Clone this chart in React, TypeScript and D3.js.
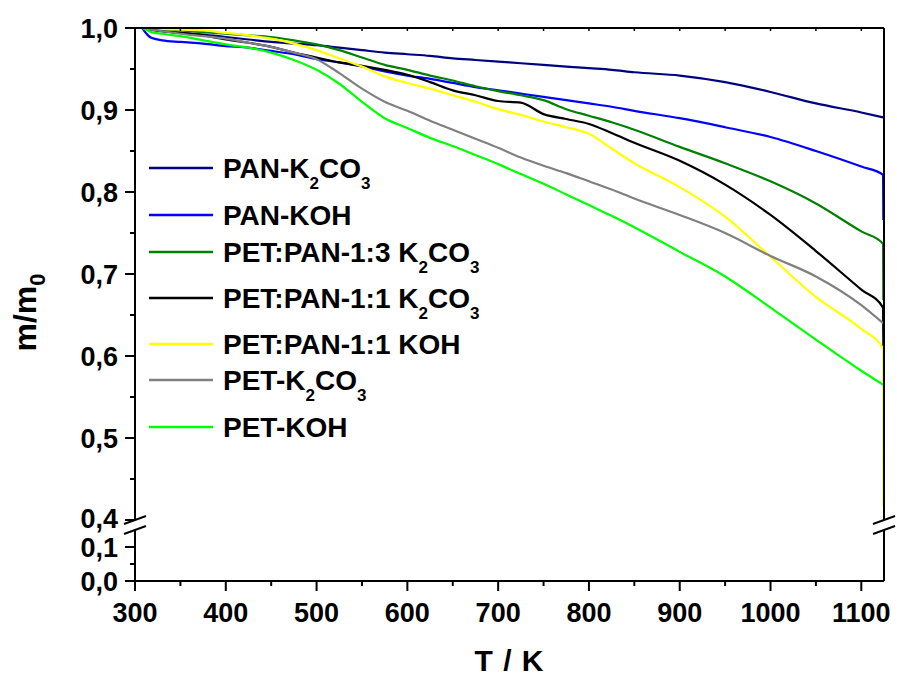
import React from "react";
import * as d3 from "d3";

const temps = [308, 312, 318, 330, 350, 375, 400, 425, 450, 475, 500, 525, 550, 575, 600, 625, 650, 675, 700, 725, 750, 775, 800, 825, 850, 900, 950, 1000, 1050, 1100, 1124];

const panK2CO3 = [1.0, 0.999, 0.998, 0.996, 0.994, 0.992, 0.989, 0.986, 0.983, 0.981, 0.979, 0.976, 0.973, 0.97, 0.968, 0.966, 0.963, 0.961, 0.959, 0.957, 0.955, 0.953, 0.951, 0.949, 0.946, 0.942, 0.934, 0.922, 0.908, 0.897, 0.891];
const panKOH = [1.0, 0.994, 0.988, 0.985, 0.983, 0.981, 0.978, 0.976, 0.972, 0.968, 0.962, 0.958, 0.953, 0.947, 0.942, 0.938, 0.933, 0.928, 0.924, 0.92, 0.916, 0.912, 0.908, 0.904, 0.899, 0.89, 0.879, 0.867, 0.85, 0.831, 0.821];
const petPan13K2CO3 = [1.0, 1.0, 0.999, 0.998, 0.997, 0.995, 0.993, 0.991, 0.989, 0.985, 0.98, 0.973, 0.964, 0.955, 0.949, 0.942, 0.936, 0.929, 0.923, 0.918, 0.912, 0.901, 0.893, 0.885, 0.876, 0.855, 0.835, 0.813, 0.786, 0.752, 0.737];
const petPan11K2CO3 = [1.0, 0.999, 0.998, 0.996, 0.994, 0.991, 0.986, 0.982, 0.977, 0.97, 0.964, 0.958, 0.954, 0.949, 0.943, 0.934, 0.924, 0.918, 0.911, 0.909, 0.895, 0.889, 0.883, 0.872, 0.86, 0.838, 0.809, 0.772, 0.728, 0.681, 0.659];
const petPan11KOH = [1.0, 1.0, 1.0, 0.999, 0.998, 0.997, 0.994, 0.991, 0.987, 0.981, 0.973, 0.963, 0.953, 0.941, 0.933, 0.926, 0.918, 0.91, 0.901, 0.894, 0.886, 0.879, 0.871, 0.853, 0.835, 0.806, 0.77, 0.721, 0.672, 0.633, 0.609];
const petK2CO3 = [1.0, 0.999, 0.998, 0.996, 0.993, 0.99, 0.987, 0.982, 0.977, 0.97, 0.962, 0.945, 0.926, 0.91, 0.899, 0.887, 0.876, 0.865, 0.854, 0.842, 0.832, 0.823, 0.813, 0.803, 0.792, 0.772, 0.75, 0.722, 0.697, 0.662, 0.64];
const petKOH = [1.0, 0.998, 0.995, 0.993, 0.99, 0.985, 0.98, 0.976, 0.97, 0.961, 0.949, 0.932, 0.91, 0.89, 0.878, 0.866, 0.856, 0.845, 0.834, 0.822, 0.81, 0.797, 0.784, 0.771, 0.757, 0.727, 0.697, 0.659, 0.62, 0.582, 0.565];

// final vertical drop at the end of the run (null = none)
const endDrops = [null, 0.766, 0.668, 0.612, 0.418, null, null];

const seriesNames = ["PAN-K2CO3", "PAN-KOH", "PET:PAN-1:3 K2CO3", "PET:PAN-1:1 K2CO3", "PET:PAN-1:1 KOH", "PET-K2CO3", "PET-KOH"];
const seriesColors = ["#000080", "#0000ff", "#008000", "#000000", "#ffff00", "#808080", "#00ff00"];
const seriesValues = [panK2CO3, panKOH, petPan13K2CO3, petPan11K2CO3, petPan11KOH, petK2CO3, petKOH];

const xTicks = [300, 400, 500, 600, 700, 800, 900, 1000, 1100];
const xMinor = [350, 450, 550, 650, 750, 850, 950, 1050];
const yUpperTicks = [0.4, 0.5, 0.6, 0.7, 0.8, 0.9, 1.0];
const yUpperMinor = [0.45, 0.55, 0.65, 0.75, 0.85, 0.95];
const yLowerTicks = [0.0, 0.1];
const yLowerMinor = [0.05];

const FONT = "'Liberation Sans', Arial, sans-serif";

function fmt(v: number) {
  return v.toFixed(1).replace(".", ",");
}

function Label({ name, x, y }: { name: string; x: number; y: number }) {
  const parts: { t: string; sub: boolean }[] = [];
  const m = name.match(/^(.*K)2CO3$/);
  if (m) {
    parts.push({ t: m[1], sub: false });
    parts.push({ t: "2", sub: true });
    parts.push({ t: "CO", sub: false });
    parts.push({ t: "3", sub: true });
  } else parts.push({ t: name, sub: false });
  return (
    <text x={x} y={y} fontFamily={FONT} fontWeight="bold" fontSize={28} fill="#000">
      {parts.map((p, i) =>
        p.sub ? (
          <tspan key={i} fontSize={17} dy={11}>{p.t}</tspan>
        ) : (
          <tspan key={i} dy={i > 0 ? -11 : 0}>{p.t}</tspan>
        )
      )}
    </text>
  );
}

export default function App() {
  const x0 = 135, x1 = 884;
  const yTop = 28, yBreakUp = 520, yBreakLo = 530, yBot = 581;
  const x = d3.scaleLinear().domain([300, 1125]).range([x0, x1]);
  const yU = d3.scaleLinear().domain([0.4, 1.0]).range([yBreakUp, yTop]);
  const yL = d3.scaleLinear().domain([0, 0.15]).range([yBot, yBreakLo]);

  const line = d3
    .line<[number, number]>()
    .x((d) => x(d[0]))
    .y((d) => yU(d[1]))
    .curve(d3.curveMonotoneX);

  const legendY = [168, 215, 252, 298, 344, 380, 427];

  const topTicks = d3.range(300, 1126, 50);

  return (
    <svg width={897} height={678} style={{ position: "absolute", left: 0, top: 0, background: "#fff" }}>
      <rect x={0} y={0} width={897} height={678} fill="#fff" />
      <defs>
        <clipPath id="plotclip">
          <rect x={x0} y={yTop - 2} width={x1 - x0 + 1} height={yBreakUp - yTop + 2} />
        </clipPath>
      </defs>
      <g clipPath="url(#plotclip)">
        {seriesValues.map((vals, i) => {
          const pts: [number, number][] = temps.map((t, j) => [t, vals[j]]);
          const drop = endDrops[i];
          if (drop !== null) pts.push([temps[temps.length - 1] + 0.3, drop]);
          return (
            <path key={i} d={line(pts) || ""} fill="none" stroke={seriesColors[i]} strokeWidth={2.2} strokeLinejoin="round" />
          );
        })}
      </g>

      <g stroke="#000" strokeWidth={2} fill="none">
        <line x1={x0} y1={yTop} x2={x1} y2={yTop} />
        <line x1={x0} y1={yBot} x2={x1} y2={yBot} />
        <line x1={x0} y1={yTop} x2={x0} y2={yBreakUp} />
        <line x1={x0} y1={yBreakLo} x2={x0} y2={yBot} />
        <line x1={x1} y1={yTop} x2={x1} y2={yBreakUp} />
        <line x1={x1} y1={yBreakLo} x2={x1} y2={yBot} />
        {[x0, x1].map((bx, i) => (
          <g key={i}>
            <line x1={bx - 11} y1={yBreakUp + 4} x2={bx + 11} y2={yBreakUp - 4} />
            <line x1={bx - 11} y1={yBreakLo + 4} x2={bx + 11} y2={yBreakLo - 4} />
          </g>
        ))}
        {xTicks.map((t) => (
          <line key={"xt" + t} x1={x(t)} y1={yBot} x2={x(t)} y2={yBot + 10} />
        ))}
        {xMinor.map((t) => (
          <line key={"xm" + t} x1={x(t)} y1={yBot} x2={x(t)} y2={yBot + 5} />
        ))}
        {topTicks.map((t) => (
          <line key={"tt" + t} x1={x(t)} y1={yTop} x2={x(t)} y2={yTop + 3} strokeWidth={1.5} />
        ))}
        {yUpperTicks.map((v) => (
          <line key={"yu" + v} x1={x0 - 10} y1={yU(v)} x2={x0} y2={yU(v)} />
        ))}
        {yUpperMinor.map((v) => (
          <line key={"yum" + v} x1={x0 - 5} y1={yU(v)} x2={x0} y2={yU(v)} />
        ))}
        {yLowerTicks.map((v) => (
          <line key={"yl" + v} x1={x0 - 10} y1={yL(v)} x2={x0} y2={yL(v)} />
        ))}
        {yLowerMinor.map((v) => (
          <line key={"ylm" + v} x1={x0 - 5} y1={yL(v)} x2={x0} y2={yL(v)} />
        ))}
      </g>

      <g fontFamily={FONT} fontWeight="bold" fontSize={27} fill="#000">
        {xTicks.map((t) => (
          <text key={"xl" + t} x={x(t)} y={622} textAnchor="middle">{t}</text>
        ))}
        {yUpperTicks.map((v) => (
          <text key={"yl" + v} x={118} y={yU(v) + (v === 0.4 ? 8 : 9.5)} textAnchor="end">{fmt(v)}</text>
        ))}
        {yLowerTicks.map((v) => (
          <text key={"yll" + v} x={118} y={yL(v) + (v === 0.1 ? 10 : 9.5)} textAnchor="end">{fmt(v)}</text>
        ))}
      </g>

      <text x={(x0 + x1) / 2} y={671} textAnchor="middle" fontFamily={FONT} fontWeight="bold" fontSize={30} letterSpacing={1}>T / K</text>
      <text transform={`translate(36, ${(yTop + yBot) / 2 + 8}) rotate(-90)`} textAnchor="middle" fontFamily={FONT} fontWeight="bold" fontSize={32}>
        m/m<tspan fontSize={22} dy={9}>0</tspan>
      </text>

      {seriesNames.map((n, i) => (
        <g key={"lg" + i}>
          <line x1={149} y1={legendY[i]} x2={213} y2={legendY[i]} stroke={seriesColors[i]} strokeWidth={2.5} />
          <Label name={n} x={223} y={legendY[i] + 10} />
        </g>
      ))}
    </svg>
  );
}
